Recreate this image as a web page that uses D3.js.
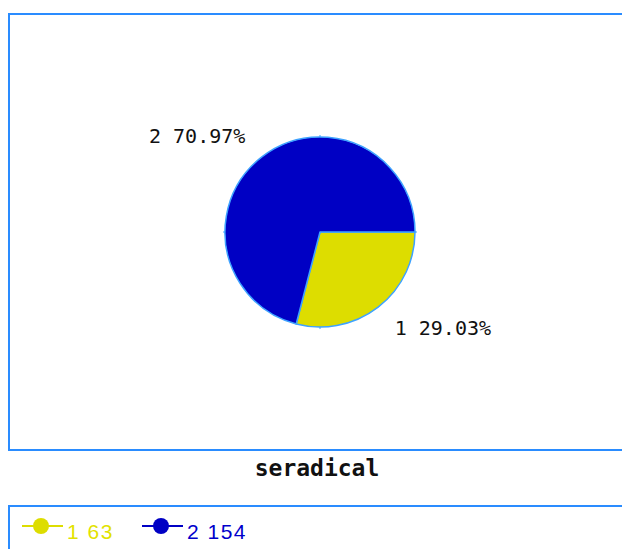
<!DOCTYPE html>
<html>
<head>
<meta charset="utf-8">
<script src="https://cdn.jsdelivr.net/npm/d3@7"></script>
<style>
  body { margin: 0; background: #fff; }
  svg { display: block; }
</style>
</head>
<body>
<div id="chart"></div>
<script>
var width = 622,
    height = 549;

// data
var categories = ["1", "2"]
var counts = [63, 154]
var colors = ["#dddd00", "#0000c4"]
var legendColors = ["#e2e200", "#0000cc"]
var title = "seradical"

var cx = 320, cy = 232, radius = 95

var svg = d3.select("#chart").append("svg")
    .attr("width", width)
    .attr("height", height)

// plot frame
svg.append("rect")
    .attr("x", 9).attr("y", 14)
    .attr("width", 640).attr("height", 436)
    .attr("fill", "#fff")
    .attr("stroke", "#2a8cff")
    .attr("stroke-width", 2)

// legend frame
svg.append("rect")
    .attr("x", 9).attr("y", 506)
    .attr("width", 640).attr("height", 80)
    .attr("fill", "#fff")
    .attr("stroke", "#2a8cff")
    .attr("stroke-width", 2)

var total = d3.sum(counts)
var rows = categories.map((c, i) => ({ name: c, value: counts[i], color: colors[i], lcolor: legendColors[i] }))

// start at 3 o'clock, go clockwise
var pie = d3.pie()
    .value(d => d.value)
    .sort(null)
    .startAngle(Math.PI / 2)
    .endAngle(Math.PI / 2 + 2 * Math.PI)

var arc = d3.arc().innerRadius(0).outerRadius(radius)
var labelArc = d3.arc().innerRadius(122).outerRadius(122)

var g = svg.append("g")
    .attr("transform", "translate(" + cx + "," + cy + ")")

var arcs = pie(rows)

g.selectAll("path.slice")
    .data(arcs)
    .enter().append("path")
    .attr("class", "slice")
    .attr("d", arc)
    .attr("fill", d => d.data.color)
    .attr("stroke", "#3ea2ff")
    .attr("stroke-width", 1.5)
    .attr("stroke-linejoin", "round")

// little ticks at the four compass points
g.selectAll("line.tick")
    .data([0, 90, 180, 270])
    .enter().append("line")
    .attr("class", "tick")
    .attr("x1", d => Math.cos(d * Math.PI / 180) * radius)
    .attr("y1", d => Math.sin(d * Math.PI / 180) * radius)
    .attr("x2", d => Math.cos(d * Math.PI / 180) * (radius + 2))
    .attr("y2", d => Math.sin(d * Math.PI / 180) * (radius + 2))
    .attr("stroke", "#3ea2ff")
    .attr("stroke-width", 1)

// slice labels
g.selectAll("text.lbl")
    .data(arcs)
    .enter().append("text")
    .attr("class", "lbl")
    .attr("transform", d => "translate(" + labelArc.centroid(d) + ")")
    .attr("text-anchor", d => labelArc.centroid(d)[0] < 0 ? "end" : "start")
    .attr("dominant-baseline", "central")
    .style("font-family", "'DejaVu Sans Mono', monospace")
    .style("font-size", "20px")
    .style("fill", "#111")
    .text(d => d.data.name + " " + (d.data.value / total * 100).toFixed(2) + "%")

// title
svg.append("text")
    .attr("x", 317)
    .attr("y", 476)
    .attr("text-anchor", "middle")
    .style("font-family", "'DejaVu Sans Mono', monospace")
    .style("font-weight", "bold")
    .style("font-size", "23px")
    .style("fill", "#111")
    .text(title)

// legend
var legendX = d3.scalePoint().domain(categories).range([22, 142])
var leg = svg.selectAll("g.legend")
    .data(rows)
    .enter().append("g")
    .attr("class", "legend")
    .attr("transform", d => "translate(" + legendX(d.name) + ",526)")

leg.append("line")
    .attr("x1", 0).attr("x2", 41)
    .attr("y1", 0).attr("y2", 0)
    .attr("stroke", d => d.color)
    .attr("stroke-width", 2)

leg.append("circle")
    .attr("cx", 19).attr("cy", 0).attr("r", 8)
    .attr("fill", d => d.color)

leg.append("text")
    .attr("x", 45)
    .attr("y", 13)
    .style("font-family", "'Liberation Sans', Arial, sans-serif")
    .style("font-size", "21px")
    .style("letter-spacing", "1.5px")
    .style("fill", d => d.lcolor)
    .text(d => d.name + " " + d.value)
</script>
</body>
</html>
